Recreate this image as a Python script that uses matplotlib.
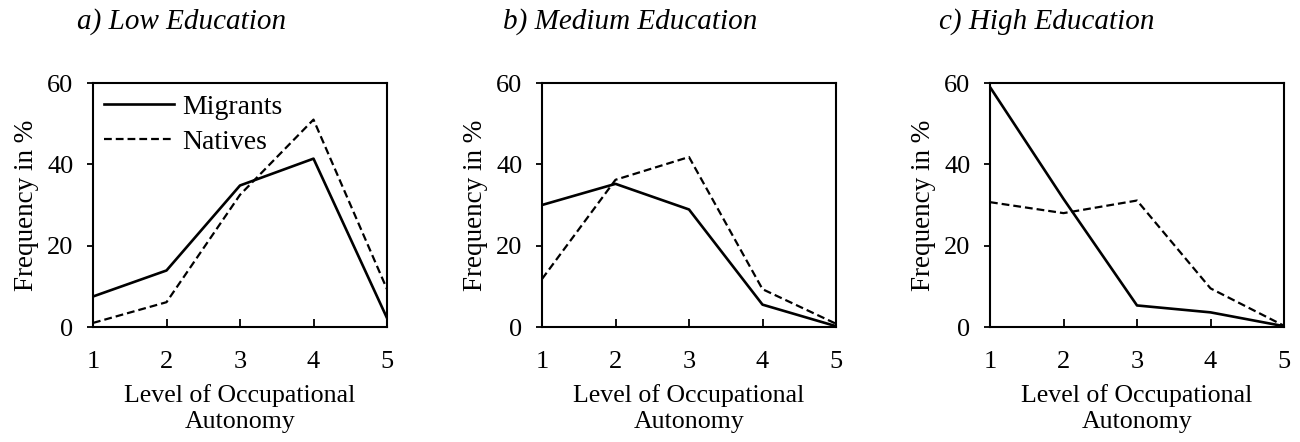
import matplotlib
matplotlib.use("Agg")
import matplotlib.pyplot as plt

levels = [1, 2, 3, 4, 5]

low_migrants = [7.5, 13.9, 34.8, 41.4, 2.2]
low_natives = [1.0, 6.1, 32.5, 51.0, 9.3]

med_migrants = [30.0, 35.2, 28.9, 5.5, 0.2]
med_natives = [11.8, 36.2, 41.8, 9.3, 0.8]

high_migrants = [59.0, 31.5, 5.3, 3.6, 0.2]
high_natives = [30.7, 28.0, 31.1, 9.5, 0.3]

titles = ["a) Low Education", "b) Medium Education", "c) High Education"]
title_x = [182, 630, 1047]  # title centres in pixels

plt.rcParams['font.family'] = ['Liberation Serif', 'DejaVu Serif']

fig = plt.figure(figsize=(13, 4.42), dpi=100)
W, H = 1300, 442
lefts = [93, 542, 990]
series = [(low_migrants, low_natives), (med_migrants, med_natives), (high_migrants, high_natives)]

for i, (mig, nat) in enumerate(series):
    ax = fig.add_axes([lefts[i] / W, 115 / H, 294 / W, 244 / H])
    ax.plot(levels, mig, color='black', lw=1.9, linestyle='-', label='Migrants')
    ax.plot(levels, nat, color='black', lw=1.6, linestyle=(0, (3.5, 1.8)), label='Natives')
    ax.set_xlim(1, 5)
    ax.set_ylim(0, 60)
    ax.set_xticks(levels)
    ax.set_yticks([0, 20, 40, 60])
    ax.tick_params(axis='x', direction='in', length=6, width=1.3, pad=17, labelsize=19)
    ax.tick_params(axis='y', direction='out', length=4, width=1.3, pad=10, labelsize=19)
    for s in ax.spines.values():
        s.set_linewidth(1.5)
    ax.set_ylabel('Frequency in %', fontsize=19.5, labelpad=6)
    ax.set_xlabel('Level of Occupational\nAutonomy', fontsize=18.6, labelpad=8, linespacing=1.25)
    if i == 0:
        ax.legend(loc='upper left', frameon=False, fontsize=20, handlelength=2.5,
                  borderaxespad=0.0, labelspacing=0.35, handletextpad=0.3)
    fig.text(title_x[i] / W, 1 - 22 / H, titles[i], ha='center', va='center',
             fontsize=21, style='italic')

fig.savefig('out.png', dpi=100)
